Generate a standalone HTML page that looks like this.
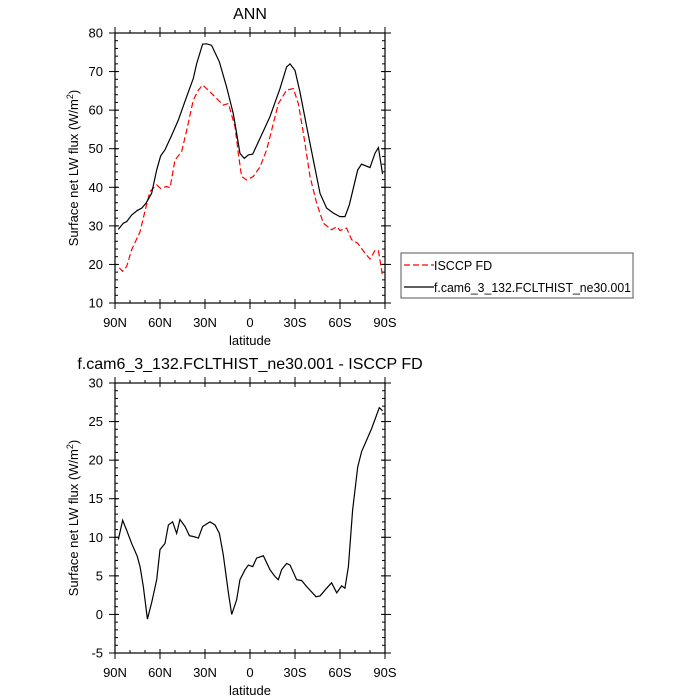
<!DOCTYPE html>
<html><head><meta charset="utf-8"><style>
body{margin:0;background:#fff}
svg{display:block;font-family:"Liberation Sans",sans-serif}
</style></head><body>
<svg id="c" width="700" height="700" viewBox="0 0 700 700"></svg>
<script>
const ctrlLat=[87.8,84.4,82.2,78.9,75.1,72.2,69.3,65.6,62.2,59.6,56.7,52.2,47.8,42.7,37.8,35.6,31.6,28.9,25.6,20.4,15.6,11.1,8.9,6.7,3.8,1.1,-1.8,-6.7,-13.3,-20,-24.4,-26.7,-30,-33.3,-37.8,-42.2,-46.7,-51.1,-55.6,-60,-63.3,-66.2,-71.8,-74.4,-80,-83.3,-85.6,-88.4];
const ctrlModel=[29.1,30.7,31.1,32.8,34,34.6,35.9,38.4,44.5,48.1,49.7,53.5,57.4,63,68.2,72,77.1,77.2,76.8,72.5,66,59,54,48.8,47.5,48.4,48.6,52.7,58.3,65.6,71.2,72,70.3,64.7,55.7,47.1,38.4,34.6,33.3,32.4,32.4,35.4,44.5,46,45.1,48.8,50.3,43.4];
const latObs=[87.1,84.9,82.2,78.9,73.3,69.3,66.7,62.2,59.6,55.6,53.3,50,45.6,42.2,37.8,34.4,31.6,27.8,22.2,17.8,14.4,10,7.8,5.6,2.2,-2.2,-6.7,-11.1,-15.6,-18.9,-24.4,-28.9,-32.2,-35.6,-40,-44.4,-48.9,-54.4,-57.8,-60,-64.4,-67.8,-71.8,-76.7,-80,-83.3,-85.6,-88.4];
const valObs=[19.1,18.2,19.5,23.8,28.5,35,38.9,40.6,39.7,40.2,39.9,47.1,49.2,54.8,62.6,65.2,66.5,65.2,63,61.3,61.7,55.7,48.8,42.8,41.9,42.8,45.3,49.7,56.6,61.7,65.2,65.6,61.7,54,42.8,35.9,30.7,29,29.8,28.8,29.4,26.4,25.5,22.9,21.4,23.6,23.6,16.9];
const latDiff=[87.8,84.9,82.2,78.9,75.1,73.3,71.1,68.4,65.6,62.2,60,56.7,54.4,51.6,48.9,46.7,43.3,40.4,37.8,34.4,31.6,26.7,23.3,20.4,17.8,14.4,12.2,8.9,6.7,3.3,1.1,-1.8,-4.4,-8.9,-13.3,-16.7,-18.9,-21.1,-24.4,-26.7,-31.1,-34.4,-37.8,-44,-46.7,-51.1,-54.4,-57.8,-61.1,-63.3,-65.6,-68.4,-71.8,-74.4,-81.1,-86.2,-88.4];
const valDiff=[9.7,12.2,10.9,9.2,7.5,6.2,3.6,-0.6,1.5,4.5,8.4,9.2,11.6,12,10.5,12.3,11.4,10.2,10.1,9.9,11.4,12,11.6,10.5,7.7,2.8,0,1.9,4.5,5.8,6.4,6.2,7.3,7.6,5.8,4.9,4.5,5.8,6.6,6.4,4.5,4.4,3.6,2.3,2.4,3.4,4.1,2.8,3.7,3.4,6.2,13.5,19.1,21.1,24.1,26.8,26.4];
const xTicks=[90,60,30,0,-30,-60,-90];
const xTickLabels=["90N","60N","30N","0","30S","60S","90S"];
const yTicksTop=[10,20,30,40,50,60,70,80];
const yTicksBot=[-5,0,5,10,15,20,25,30];
const NS="http://www.w3.org/2000/svg";
const svg=document.getElementById('c');
function el(t,a,p){const e=document.createElementNS(NS,t);for(const k in a)e.setAttribute(k,a[k]);(p||svg).appendChild(e);return e;}
function panel(P){
  const g=el('g',{});
  
  
  const x=v=>P.x0+(90-v)/180*(P.x1-P.x0);
  const y=v=>P.y1-(v-P.ymin)/(P.ymax-P.ymin)*(P.y1-P.y0);
  for(let v=90;v>=-90;v-=10){const X=x(v);
    el('line',{x1:X,x2:X,y1:P.y1,y2:P.y1-3,stroke:'#000'},g);el('line',{x1:X,x2:X,y1:P.y0,y2:P.y0-3,stroke:'#000'},g);}
  for(let v=P.ymin;v<=P.ymax+1e-9;v+=P.minor){const Y=y(v);
    el('line',{x1:P.x0,x2:P.x0+3,y1:Y,y2:Y,stroke:'#000'},g);el('line',{x1:P.x1,x2:P.x1-3,y1:Y,y2:Y,stroke:'#000'},g);}
  xTicks.forEach((v,i)=>{const X=x(v);
    el('line',{x1:X,x2:X,y1:P.y1-4,y2:P.y1+6,stroke:'#000'},g);
    el('line',{x1:X,x2:X,y1:P.y0+4,y2:P.y0-6,stroke:'#000'},g);
    const t=el('text',{x:X,y:P.y1+24,'font-size':13,'text-anchor':'middle'},g);t.textContent=xTickLabels[i];
    
    });
  P.yt.forEach(v=>{const Y=y(v);
    el('line',{x1:P.x0-6,x2:P.x0+4,y1:Y,y2:Y,stroke:'#000'},g);
    el('line',{x1:P.x1-4,x2:P.x1+6,y1:Y,y2:Y,stroke:'#000'},g);
    const t=el('text',{x:P.x0-12,y:Y+4.5,'font-size':13,'text-anchor':'end'},g);t.textContent=v;
    
    });
  el('rect',{x:P.x0,y:P.y0,width:P.x1-P.x0,height:P.y1-P.y0,fill:'none',stroke:'#000','stroke-width':1.2},g);
  const xl=el('text',{x:(P.x0+P.x1)/2,y:P.y1+42,'font-size':13,'text-anchor':'middle'},g);xl.textContent='latitude';
  
  
  const cy=(P.y0+P.y1)/2;
  const yl=el('text',{x:78,y:cy,'font-size':13,'text-anchor':'middle',transform:`rotate(-90 78 ${cy})`},g);
  yl.innerHTML='Surface net LW flux (W/m<tspan dy="-5" font-size="9">2</tspan><tspan dy="5">)</tspan>';
  
  
  const tt=el('text',{x:P.tx,y:P.y0-14,'font-size':16,'text-anchor':'middle'},g);tt.textContent=P.title;
  
  
  P.series.forEach(s=>{
    const p=el('polyline',{points:s.la.map((l,i)=>x(l)+','+y(s.v[i])).join(' '),fill:'none',stroke:s.c,'stroke-width':1.2,'stroke-dasharray':s.d||'none'},g);
    
    
  });
}
panel({name:'top-panel',x0:115,x1:385,y0:33,y1:303,ymin:10,ymax:80,minor:2,yt:yTicksTop,title:'ANN',tx:250,
  series:[{la:latObs,v:valObs,c:'#f00',d:'6 3',name:'isccp-fd-line'},{la:ctrlLat,v:ctrlModel,c:'#000',name:'model-line'}]});
panel({name:'bottom-panel',x0:115,x1:385,y0:383,y1:653,ymin:-5,ymax:30,minor:1,yt:yTicksBot,title:'f.cam6_3_132.FCLTHIST_ne30.001 - ISCCP FD',tx:250,
  series:[{la:latDiff,v:valDiff,c:'#000',name:'difference-line'}]});
const lg=el('g',{});


el('rect',{x:401,y:253,width:232,height:45,fill:'#fff',stroke:'#555'},lg);
el('line',{x1:404,x2:434,y1:265,y2:265,stroke:'#f00','stroke-width':1.2,'stroke-dasharray':'6 3'},lg);
el('line',{x1:404,x2:434,y1:287,y2:287,stroke:'#000','stroke-width':1.2},lg);
const t1=el('text',{x:434,y:270,'font-size':12.5},lg);t1.textContent='ISCCP FD';


const t2=el('text',{x:434,y:292,'font-size':12.5,textLength:197,lengthAdjust:'spacingAndGlyphs'},lg);t2.textContent='f.cam6_3_132.FCLTHIST_ne30.001';


</script>
</body></html>
